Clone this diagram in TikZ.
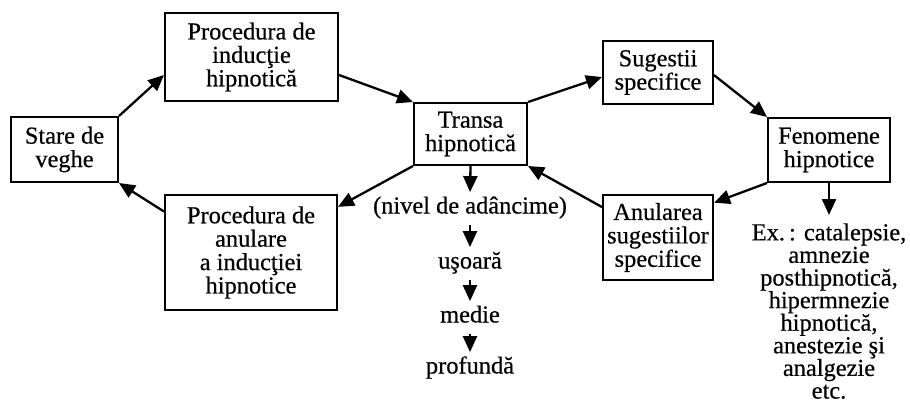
\documentclass[tikz,border=0pt]{standalone}
\usepackage{fontspec}
\setmainfont{Liberation Serif}[FakeBold=0.5]
\usetikzlibrary{arrows.meta,calc}

\tikzset{
  box/.style={draw, line width=1pt, inner sep=0pt, align=center,
    font=\fontsize{12.2}{11.7}\selectfont},
  lbl/.style={inner sep=0pt, text height=8.5pt, text depth=3pt,
    font=\fontsize{12.2}{11.7}\selectfont},
  conn/.style={line width=1.15pt, -{Triangle[length=8pt,width=7pt]}},
}

\begin{document}
\begin{tikzpicture}[x=0.5pt,y=-0.5pt]
\useasboundingbox (0,0) rectangle (910,401);

% boxes of the cycle
\node[box, minimum width=53.5pt, minimum height=32.5pt] (stare)   at (64.5,149.5) {Stare de\\veghe};
\node[box, minimum width=86.5pt, minimum height=44pt]   (induct)  at (251.5,57)   {Procedura de\\inducţie\\hipnotică};
\node[box, minimum width=86pt,   minimum height=57.5pt] (anul)    at (251,252.5)  {Procedura de\\anulare\\a inducţiei\\hipnotice};
\node[box, minimum width=56.5pt, minimum height=31pt]   (transa)  at (470.5,134)  {Transa\\hipnotică};
\node[box, minimum width=55pt,   minimum height=31.5pt] (suges)   at (658,72.5)   {Sugestii\\specifice};
\node[box, minimum width=61pt,   minimum height=32pt]   (fenom)   at (829,150)    {Fenomene\\hipnotice};
\node[box, minimum width=55pt,   minimum height=42.5pt] (anulsug) at (658,237.5)  {Anularea\\sugestiilor\\specifice};

% depth levels under the trance box
\node[lbl] (nivel)   at (470,208) {(nivel de adâncime)};
\node[lbl] (usoara)  at (470,263) {uşoară};
\node[lbl] (medie)   at (470,317) {medie};
\node[lbl] (profund) at (470,368) {profundă};

% examples of hypnotic phenomena
\node[inner sep=0pt, align=center, anchor=north, font=\fontsize{12.2}{11.3}\selectfont]
  (ex) at (829,223) {Ex.\,: catalepsie,\\amnezie\\posthipnotică,\\hipermnezie\\hipnotică,\\anestezie şi\\analgezie\\etc.};

% cycle connectors
\draw[conn] (stare.north east) -- ($(induct.south west)!0.3!(induct.north west)$);
\draw[conn] ($(induct.south east)!0.3!(induct.north east)$) -- (transa.north west);
\draw[conn] (transa.north east) -- ($(suges.south west)!0.43!(suges.north west)$);
\draw[conn] ($(suges.south east)!0.46!(suges.north east)$) -- (fenom.north west);
\draw[conn] (fenom.south west) -- ($(anulsug.north east)!0.1!(anulsug.south east)$);
\draw[conn] ($(anulsug.north west)!0.15!(anulsug.south west)$) -- (transa.south east);
\draw[conn] (transa.south west) -- ($(anul.north east)!0.11!(anul.south east)$);
\draw[conn] ($(anul.north west)!0.15!(anul.south west)$) -- (stare.south east);

% downward chains
\draw[conn, shorten >=2pt] (transa.south) -- (nivel.north);
\draw[conn, shorten <=2.5pt, shorten >=2pt] (nivel.south) -- (usoara.north);
\draw[conn, shorten <=2.5pt, shorten >=2pt] (usoara.south) -- (medie.north);
\draw[conn, shorten <=2.5pt, shorten >=2pt] (medie.south) -- (profund.north);
\draw[conn, shorten >=4pt] (fenom.south) -- (ex.north);
\end{tikzpicture}
\end{document}
